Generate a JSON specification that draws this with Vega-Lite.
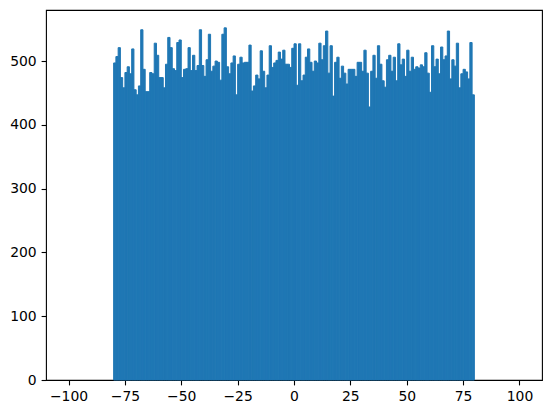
{
  "$schema": "https://vega.github.io/schema/vega-lite/v6.json",
  "width": 496,
  "height": 370,
  "autosize": {"type": "none"},
  "padding": {"left": 46, "top": 10, "right": 10, "bottom": 33},
  "background": "white",
  "config": {
    "view": {"stroke": "black", "strokeWidth": 1.1},
    "axis": {
      "domain": false,
      "grid": false,
      "labelFont": "DejaVu Sans",
      "labelFontSize": 13.9,
      "labelColor": "black",
      "tickColor": "black",
      "tickSize": 4.9,
      "tickWidth": 1.1,
      "labelPadding": 4.9,
      "title": null
    }
  },
  "data": {
    "values": [
      {"bin_start": -80, "bin_end": -79, "count": 497},
      {"bin_start": -79, "bin_end": -78, "count": 507},
      {"bin_start": -78, "bin_end": -77, "count": 521},
      {"bin_start": -77, "bin_end": -76, "count": 474},
      {"bin_start": -76, "bin_end": -75, "count": 458},
      {"bin_start": -75, "bin_end": -74, "count": 482},
      {"bin_start": -74, "bin_end": -73, "count": 491},
      {"bin_start": -73, "bin_end": -72, "count": 480},
      {"bin_start": -72, "bin_end": -71, "count": 519},
      {"bin_start": -71, "bin_end": -70, "count": 455},
      {"bin_start": -70, "bin_end": -69, "count": 447},
      {"bin_start": -69, "bin_end": -68, "count": 461},
      {"bin_start": -68, "bin_end": -67, "count": 549},
      {"bin_start": -67, "bin_end": -66, "count": 487},
      {"bin_start": -66, "bin_end": -65, "count": 452},
      {"bin_start": -65, "bin_end": -64, "count": 452},
      {"bin_start": -64, "bin_end": -63, "count": 482},
      {"bin_start": -63, "bin_end": -62, "count": 480},
      {"bin_start": -62, "bin_end": -61, "count": 528},
      {"bin_start": -61, "bin_end": -60, "count": 509},
      {"bin_start": -60, "bin_end": -59, "count": 474},
      {"bin_start": -59, "bin_end": -58, "count": 474},
      {"bin_start": -58, "bin_end": -57, "count": 458},
      {"bin_start": -57, "bin_end": -56, "count": 495},
      {"bin_start": -56, "bin_end": -55, "count": 537},
      {"bin_start": -55, "bin_end": -54, "count": 521},
      {"bin_start": -54, "bin_end": -53, "count": 488},
      {"bin_start": -53, "bin_end": -52, "count": 485},
      {"bin_start": -52, "bin_end": -51, "count": 529},
      {"bin_start": -51, "bin_end": -50, "count": 533},
      {"bin_start": -50, "bin_end": -49, "count": 474},
      {"bin_start": -49, "bin_end": -48, "count": 487},
      {"bin_start": -48, "bin_end": -47, "count": 488},
      {"bin_start": -47, "bin_end": -46, "count": 521},
      {"bin_start": -46, "bin_end": -45, "count": 485},
      {"bin_start": -45, "bin_end": -44, "count": 509},
      {"bin_start": -44, "bin_end": -43, "count": 485},
      {"bin_start": -43, "bin_end": -42, "count": 493},
      {"bin_start": -42, "bin_end": -41, "count": 549},
      {"bin_start": -41, "bin_end": -40, "count": 493},
      {"bin_start": -40, "bin_end": -39, "count": 476},
      {"bin_start": -39, "bin_end": -38, "count": 502},
      {"bin_start": -38, "bin_end": -37, "count": 542},
      {"bin_start": -37, "bin_end": -36, "count": 484},
      {"bin_start": -36, "bin_end": -35, "count": 492},
      {"bin_start": -35, "bin_end": -34, "count": 500},
      {"bin_start": -34, "bin_end": -33, "count": 498},
      {"bin_start": -33, "bin_end": -32, "count": 470},
      {"bin_start": -32, "bin_end": -31, "count": 542},
      {"bin_start": -31, "bin_end": -30, "count": 552},
      {"bin_start": -30, "bin_end": -29, "count": 491},
      {"bin_start": -29, "bin_end": -28, "count": 480},
      {"bin_start": -28, "bin_end": -27, "count": 497},
      {"bin_start": -27, "bin_end": -26, "count": 508},
      {"bin_start": -26, "bin_end": -25, "count": 447},
      {"bin_start": -25, "bin_end": -24, "count": 495},
      {"bin_start": -24, "bin_end": -23, "count": 506},
      {"bin_start": -23, "bin_end": -22, "count": 497},
      {"bin_start": -22, "bin_end": -21, "count": 498},
      {"bin_start": -21, "bin_end": -20, "count": 498},
      {"bin_start": -20, "bin_end": -19, "count": 525},
      {"bin_start": -19, "bin_end": -18, "count": 453},
      {"bin_start": -18, "bin_end": -17, "count": 461},
      {"bin_start": -17, "bin_end": -16, "count": 478},
      {"bin_start": -16, "bin_end": -15, "count": 472},
      {"bin_start": -15, "bin_end": -14, "count": 516},
      {"bin_start": -14, "bin_end": -13, "count": 484},
      {"bin_start": -13, "bin_end": -12, "count": 458},
      {"bin_start": -12, "bin_end": -11, "count": 478},
      {"bin_start": -11, "bin_end": -10, "count": 524},
      {"bin_start": -10, "bin_end": -9, "count": 490},
      {"bin_start": -9, "bin_end": -8, "count": 497},
      {"bin_start": -8, "bin_end": -7, "count": 501},
      {"bin_start": -7, "bin_end": -6, "count": 514},
      {"bin_start": -6, "bin_end": -5, "count": 503},
      {"bin_start": -5, "bin_end": -4, "count": 517},
      {"bin_start": -4, "bin_end": -3, "count": 495},
      {"bin_start": -3, "bin_end": -2, "count": 495},
      {"bin_start": -2, "bin_end": -1, "count": 490},
      {"bin_start": -1, "bin_end": 0, "count": 520},
      {"bin_start": 0, "bin_end": 1, "count": 527},
      {"bin_start": 1, "bin_end": 2, "count": 462},
      {"bin_start": 2, "bin_end": 3, "count": 527},
      {"bin_start": 3, "bin_end": 4, "count": 469},
      {"bin_start": 4, "bin_end": 5, "count": 478},
      {"bin_start": 5, "bin_end": 6, "count": 506},
      {"bin_start": 6, "bin_end": 7, "count": 519},
      {"bin_start": 7, "bin_end": 8, "count": 498},
      {"bin_start": 8, "bin_end": 9, "count": 484},
      {"bin_start": 9, "bin_end": 10, "count": 500},
      {"bin_start": 10, "bin_end": 11, "count": 497},
      {"bin_start": 11, "bin_end": 12, "count": 528},
      {"bin_start": 12, "bin_end": 13, "count": 502},
      {"bin_start": 13, "bin_end": 14, "count": 524},
      {"bin_start": 14, "bin_end": 15, "count": 547},
      {"bin_start": 15, "bin_end": 16, "count": 481},
      {"bin_start": 16, "bin_end": 17, "count": 524},
      {"bin_start": 17, "bin_end": 18, "count": 445},
      {"bin_start": 18, "bin_end": 19, "count": 498},
      {"bin_start": 19, "bin_end": 20, "count": 506},
      {"bin_start": 20, "bin_end": 21, "count": 473},
      {"bin_start": 21, "bin_end": 22, "count": 492},
      {"bin_start": 22, "bin_end": 23, "count": 481},
      {"bin_start": 23, "bin_end": 24, "count": 464},
      {"bin_start": 24, "bin_end": 25, "count": 487},
      {"bin_start": 25, "bin_end": 26, "count": 487},
      {"bin_start": 26, "bin_end": 27, "count": 487},
      {"bin_start": 27, "bin_end": 28, "count": 476},
      {"bin_start": 28, "bin_end": 29, "count": 498},
      {"bin_start": 29, "bin_end": 30, "count": 498},
      {"bin_start": 30, "bin_end": 31, "count": 484},
      {"bin_start": 31, "bin_end": 32, "count": 517},
      {"bin_start": 32, "bin_end": 33, "count": 481},
      {"bin_start": 33, "bin_end": 34, "count": 428},
      {"bin_start": 34, "bin_end": 35, "count": 484},
      {"bin_start": 35, "bin_end": 36, "count": 509},
      {"bin_start": 36, "bin_end": 37, "count": 473},
      {"bin_start": 37, "bin_end": 38, "count": 524},
      {"bin_start": 38, "bin_end": 39, "count": 495},
      {"bin_start": 39, "bin_end": 40, "count": 469},
      {"bin_start": 40, "bin_end": 41, "count": 459},
      {"bin_start": 41, "bin_end": 42, "count": 502},
      {"bin_start": 42, "bin_end": 43, "count": 509},
      {"bin_start": 43, "bin_end": 44, "count": 484},
      {"bin_start": 44, "bin_end": 45, "count": 506},
      {"bin_start": 45, "bin_end": 46, "count": 469},
      {"bin_start": 46, "bin_end": 47, "count": 527},
      {"bin_start": 47, "bin_end": 48, "count": 494},
      {"bin_start": 48, "bin_end": 49, "count": 503},
      {"bin_start": 49, "bin_end": 50, "count": 476},
      {"bin_start": 50, "bin_end": 51, "count": 517},
      {"bin_start": 51, "bin_end": 52, "count": 484},
      {"bin_start": 52, "bin_end": 53, "count": 506},
      {"bin_start": 53, "bin_end": 54, "count": 487},
      {"bin_start": 54, "bin_end": 55, "count": 491},
      {"bin_start": 55, "bin_end": 56, "count": 489},
      {"bin_start": 56, "bin_end": 57, "count": 494},
      {"bin_start": 57, "bin_end": 58, "count": 491},
      {"bin_start": 58, "bin_end": 59, "count": 513},
      {"bin_start": 59, "bin_end": 60, "count": 481},
      {"bin_start": 60, "bin_end": 61, "count": 451},
      {"bin_start": 61, "bin_end": 62, "count": 524},
      {"bin_start": 62, "bin_end": 63, "count": 491},
      {"bin_start": 63, "bin_end": 64, "count": 503},
      {"bin_start": 64, "bin_end": 65, "count": 480},
      {"bin_start": 65, "bin_end": 66, "count": 522},
      {"bin_start": 66, "bin_end": 67, "count": 502},
      {"bin_start": 67, "bin_end": 68, "count": 508},
      {"bin_start": 68, "bin_end": 69, "count": 547},
      {"bin_start": 69, "bin_end": 70, "count": 472},
      {"bin_start": 70, "bin_end": 71, "count": 502},
      {"bin_start": 71, "bin_end": 72, "count": 492},
      {"bin_start": 72, "bin_end": 73, "count": 528},
      {"bin_start": 73, "bin_end": 74, "count": 458},
      {"bin_start": 74, "bin_end": 75, "count": 480},
      {"bin_start": 75, "bin_end": 76, "count": 487},
      {"bin_start": 76, "bin_end": 77, "count": 483},
      {"bin_start": 77, "bin_end": 78, "count": 472},
      {"bin_start": 78, "bin_end": 79, "count": 529},
      {"bin_start": 79, "bin_end": 80, "count": 447}
    ]
  },
  "mark": {"type": "rect", "color": "#1f77b4", "stroke": "#1f77b4", "strokeWidth": 1},
  "encoding": {
    "x": {
      "field": "bin_start",
      "type": "quantitative",
      "scale": {"domain": [-110, 110], "nice": false, "zero": false},
      "axis": {
        "values": [-100, -75, -50, -25, 0, 25, 50, 75, 100],
        "format": "d",
        "labelExpr": "replace(datum.label, '-', '−')",
        "labelFlush": false,
        "labelOverlap": false
      }
    },
    "x2": {"field": "bin_end"},
    "y": {
      "field": "count",
      "type": "quantitative",
      "scale": {"domain": [0, 580], "nice": false},
      "axis": {
        "values": [0, 100, 200, 300, 400, 500],
        "format": "d",
        "labelOverlap": false
      }
    },
    "y2": {"datum": 0}
  }
}
